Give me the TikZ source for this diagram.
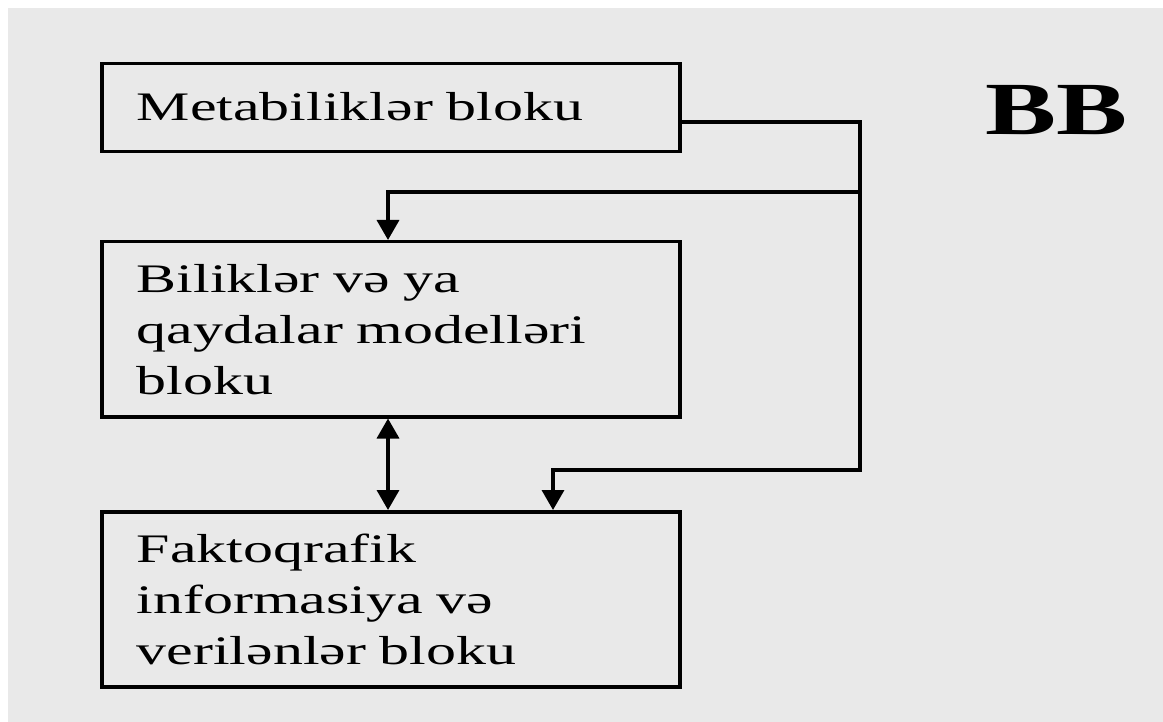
\documentclass[tikz,border=0pt]{standalone}
\usepackage{fontspec}
\setmainfont{Liberation Serif}[FakeStretch=1.48]
\newfontfamily\titlefont{Liberation Serif}[FakeStretch=1.42]
\usetikzlibrary{arrows.meta}
\definecolor{panel}{HTML}{E9E9E9}
\begin{document}
\begin{tikzpicture}[x=1pt,y=-1pt,
  blk/.style={draw=black,line width=3.5pt,minimum width=578pt,text width=508pt,
    align=left,inner sep=0pt,anchor=north west,font=\fontsize{40.5}{51}\selectfont},
  wire/.style={line width=3.5pt},
  tip/.style={-{Triangle[width=22pt,length=20pt]}},
  tips/.style={{Triangle[width=22pt,length=20pt]}-{Triangle[width=22pt,length=20pt]}}]
% page and panel
\fill[white] (0,0) rectangle (1163,722);
\fill[panel] (8,8) rectangle (1163,722);
\useasboundingbox (0,0) rectangle (1163,722);

% blocks
\node[blk,minimum height=88pt]  (meta) at (100,62)  {\raisebox{3pt}{Metabiliklər bloku}};
\node[blk,minimum height=175pt] (know) at (100,240) {Biliklər və ya\\qaydalar modelləri\\bloku};
\node[blk,minimum height=175pt] (fact) at (100,510) {Faktoqrafik\\informasiya və\\verilənlər bloku};

% title
\node[font=\titlefont\fontsize{75}{75}\selectfont\bfseries,anchor=base west,inner sep=0pt] (bb) at (985,135) {BB};

% routing points
\coordinate (j1) at (860,122);
\coordinate (j2) at (860,192);
\coordinate (j3) at (860,470);
\coordinate (d1) at (388,192);
\coordinate (d2) at (553,470);

% connectors
\draw[wire,tip] (meta.east |- j1) -- (j1) -- (j3) -- (d2) -- (d2 |- fact.north);
\draw[wire,tip] (j2) -- (d1) -- (d1 |- know.north);
\draw[wire,tips] (d1 |- know.south) -- (d1 |- fact.north);
\end{tikzpicture}
\end{document}
